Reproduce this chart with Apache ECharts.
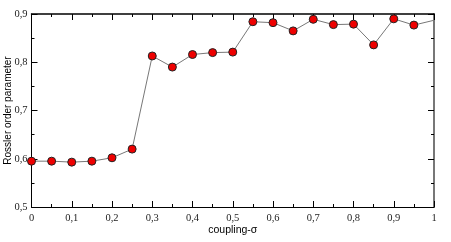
<!DOCTYPE html>
<html><head><meta charset="utf-8">
<script src="https://cdn.jsdelivr.net/npm/echarts@6/dist/echarts.min.js"></script>
<style>html,body{margin:0;padding:0;background:#fff}#c{width:451px;height:242px}</style>
</head><body><div id="c"></div>
<script>
const sigma = [0,0.05,0.1,0.15,0.2,0.25,0.3,0.35,0.4,0.45,0.5,0.55,0.6,0.65,0.7,0.75,0.8,0.85,0.9,0.95,1.0];
const orderParam = [0.595,0.595,0.593,0.595,0.602,0.620,0.813,0.790,0.816,0.820,0.821,0.884,0.882,0.865,0.889,0.878,0.879,0.836,0.890,0.877,0.887];
const xName = 'coupling-σ';
const yName = 'Rossler order parameter';

const fmt = v => String(+v.toFixed(2)).replace('.', ',');
const data = sigma.map((s, i) => {
  const p = {value: [s, orderParam[i]]};
  if (i === sigma.length - 1) p.symbol = 'none';
  return p;
});
const serif = 'Liberation Serif';
const chart = echarts.init(document.getElementById('c'));
chart.setOption({
  animation: false,
  grid: {left: 31.5, right: 17, top: 14, bottom: 35, containLabel: false, outerBoundsMode: 'none'},
  xAxis: [{
    type: 'value', min: 0, max: 1, interval: 0.1,
    name: xName, nameLocation: 'middle', nameGap: 18, nameMoveOverlap: false,
    nameTextStyle: {fontFamily: 'Liberation Sans', fontSize: 10.5, color: '#000'},
    axisLine: {show: true, onZero: false, lineStyle: {color: '#000', width: 1}},
    axisTick: {show: true, inside: true, length: 6, lineStyle: {color: '#000'}},
    minorTick: {show: true, splitNumber: 2, length: 3, lineStyle: {color: '#000'}},
    axisLabel: {formatter: fmt, fontFamily: serif, fontSize: 10.5, color: '#222', margin: 6},
    splitLine: {show: false}
  }, {
    type: 'value', min: 0, max: 1, interval: 0.1, position: 'top',
    axisLine: {show: true, onZero: false, lineStyle: {color: '#000', width: 1.5}},
    axisTick: {show: true, inside: true, length: 6, lineStyle: {color: '#000'}},
    minorTick: {show: true, splitNumber: 2, length: 3, lineStyle: {color: '#000'}},
    axisLabel: {show: false}, splitLine: {show: false}
  }],
  yAxis: [{
    type: 'value', min: 0.5, max: 0.9, interval: 0.1,
    name: yName, nameLocation: 'middle', nameGap: 18, nameRotate: 90, nameMoveOverlap: false,
    nameTextStyle: {fontFamily: 'Liberation Sans', fontSize: 10, color: '#000'},
    axisLine: {show: true, onZero: false, lineStyle: {color: '#000', width: 1}},
    axisTick: {show: true, inside: true, length: 6, lineStyle: {color: '#000'}},
    minorTick: {show: true, splitNumber: 2, length: 3, lineStyle: {color: '#000'}},
    axisLabel: {formatter: fmt, fontFamily: serif, fontSize: 10.5, color: '#222', margin: 4},
    splitLine: {show: false}
  }, {
    type: 'value', min: 0.5, max: 0.9, interval: 0.1, position: 'right',
    axisLine: {show: true, onZero: false, lineStyle: {color: '#777', width: 2}},
    axisTick: {show: true, inside: true, length: 6, lineStyle: {color: '#000'}},
    minorTick: {show: true, splitNumber: 2, length: 3, lineStyle: {color: '#000'}},
    axisLabel: {show: false}, splitLine: {show: false}
  }],
  series: [{
    type: 'line', data: data, xAxisIndex: 0, yAxisIndex: 0,
    symbol: 'circle', symbolSize: 8,
    lineStyle: {color: '#777', width: 1},
    itemStyle: {color: '#ee0000', borderColor: '#222', borderWidth: 1}
  }]
});
</script></body></html>
